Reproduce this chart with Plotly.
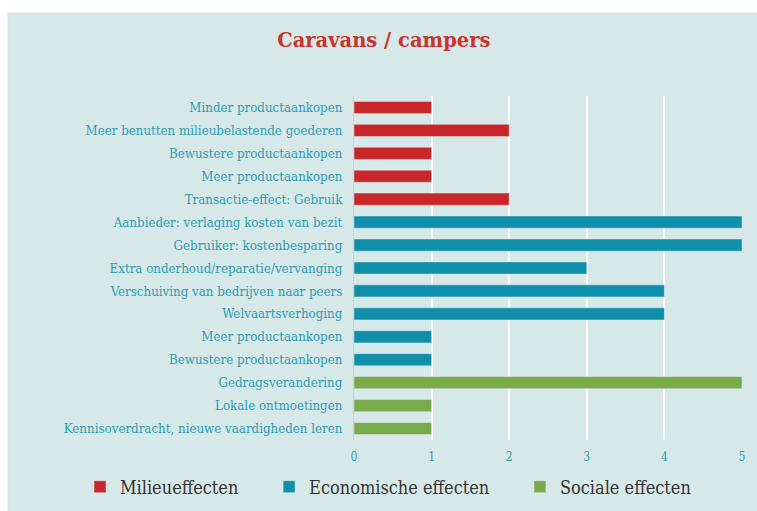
import plotly.graph_objects as go

# categories top -> bottom, with their effect group and score
milieu_labels = ["Minder productaankopen", "Meer benutten milieubelastende goederen",
                 "Bewustere productaankopen", "Meer productaankopen",
                 "Transactie-effect: Gebruik"]
milieu_values = [1, 2, 1, 1, 2]

econ_labels = ["Aanbieder: verlaging kosten van bezit", "Gebruiker: kostenbesparing",
               "Extra onderhoud/reparatie/vervanging", "Verschuiving van bedrijven naar peers",
               "Welvaartsverhoging", "Meer productaankopen", "Bewustere productaankopen"]
econ_values = [5, 5, 3, 4, 4, 1, 1]

sociaal_labels = ["Gedragsverandering", "Lokale ontmoetingen",
                  "Kennisoverdracht, nieuwe vaardigheden leren"]
sociaal_values = [5, 1, 1]

x_ticks = [0, 1, 2, 3, 4, 5]

all_labels = milieu_labels + econ_labels + sociaal_labels
n = len(all_labels)
# labels repeat, so position the rows by index (top row gets the highest index)
pos = [n - 1 - i for i in range(n)]
pos_m = pos[:len(milieu_labels)]
pos_e = pos[len(milieu_labels):len(milieu_labels) + len(econ_labels)]
pos_s = pos[len(milieu_labels) + len(econ_labels):]

W, H = 757, 511
L, R, T, B = 354, 15, 96, 71

fig = go.Figure()
fig.add_trace(go.Bar(y=pos_m, x=milieu_values, orientation="h", name="Milieueffecten",
                     marker_color="#c9262a"))
fig.add_trace(go.Bar(y=pos_e, x=econ_values, orientation="h", name="Economische effecten",
                     marker_color="#0f8fa9"))
fig.add_trace(go.Bar(y=pos_s, x=sociaal_values, orientation="h", name="Sociale effecten",
                     marker_color="#7aab4b"))

pw, ph = W - L - R, H - T - B
fig.add_shape(type="rect", xref="paper", yref="paper", layer="below",
              x0=(8 - L) / pw, x1=(W + 2 - L) / pw,
              y0=(T + ph - (H + 2)) / ph, y1=(T + ph - 13) / ph,
              fillcolor="#d7e8e8", line=dict(color="#dcdcdc", width=1))

fig.update_layout(
    width=W, height=H,
    margin=dict(l=L, r=R, t=T, b=B, autoexpand=False),
    paper_bgcolor="white", plot_bgcolor="rgba(0,0,0,0)",
    barmode="overlay", bargap=0.47,
    title=dict(text="<b>Caravans / campers</b>", x=0.507, xanchor="center",
               y=0.922, yanchor="middle",
               font=dict(family="DejaVu Serif", size=19.5, color="#c9342f")),
    font=dict(family="DejaVu Serif", size=12, color="#2a9cb3"),
    legend=dict(orientation="h", x=(80 - L) / pw, xanchor="left",
                y=(T + ph - 487) / ph, yanchor="middle",
                itemwidth=30, tracegroupgap=0,
                font=dict(family="DejaVu Serif Condensed", size=18, color="#333333"),
                bgcolor="rgba(0,0,0,0)"),
    showlegend=True,
)
# pad legend names so the entries spread like the reference
for tr, pad in zip(fig.data, [5, 5, 0]):
    tr.name = tr.name + "\u00a0" * pad

fig.update_xaxes(range=[0, 5], tickvals=x_ticks, showgrid=True, gridcolor="white",
                 gridwidth=2, zeroline=False, showline=False, ticks="",
                 ticklabelstandoff=8,
                 tickfont=dict(family="DejaVu Serif Condensed", size=12, color="#2a9cb3"))
fig.update_yaxes(tickvals=pos, ticktext=all_labels, range=[-0.5, n - 0.5],
                 showgrid=False, zeroline=False, showline=True, linecolor="#c8d2d2",
                 linewidth=1, ticks="", ticklabelstandoff=8,
                 tickfont=dict(family="DejaVu Serif Condensed", size=13.2, color="#2a9cb3"))

fig.write_html("out.html", config={"displayModeBar": False},
               post_script="document.body.style.margin='0';")
